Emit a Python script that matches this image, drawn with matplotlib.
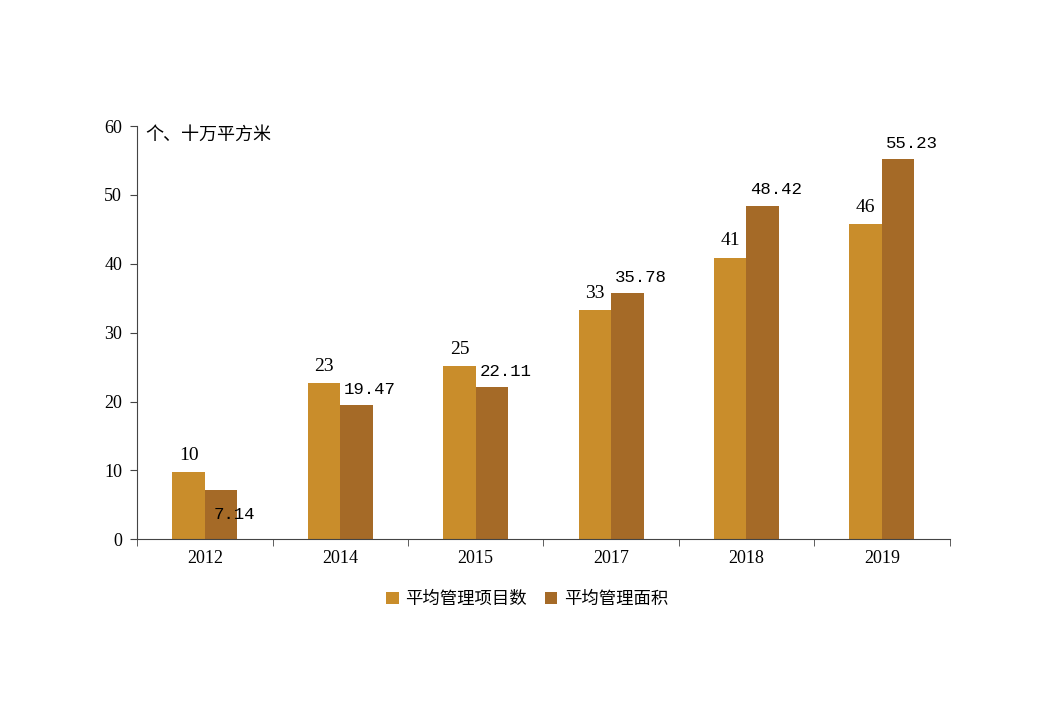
import matplotlib
matplotlib.use("Agg")
import matplotlib.pyplot as plt
import numpy as np

plt.rcParams['font.family'] = ['Liberation Serif', 'Noto Sans CJK SC', 'DejaVu Sans']

years = ['2012', '2014', '2015', '2017', '2018', '2019']
projects = [9.7, 22.7, 25.1, 33.3, 40.9, 45.7]
project_labels = ['10', '23', '25', '33', '41', '46']
areas = [7.14, 19.47, 22.11, 35.78, 48.42, 55.23]

c1 = '#C98D2B'
c2 = '#A56A27'

fig = plt.figure(figsize=(10.4, 7.2), dpi=100)
ax = fig.add_axes([0.132, 0.251, 0.781, 0.574])

x = np.arange(len(years))
w = 0.24
b1 = ax.bar(x - w / 2, projects, w, color=c1, label='平均管理项目数')
b2 = ax.bar(x + w / 2, areas, w, color=c2, label='平均管理面积')

for r, t in zip(b1, project_labels):
    ax.text(r.get_x() + r.get_width() / 2, r.get_height() + 1.2, t,
            ha='center', va='bottom', fontsize=14)
for r, v in zip(b2, areas):
    y = r.get_height() + 1.2
    if v < 8:
        y = 2.5
    ax.text(r.get_x() + r.get_width() / 2 + 0.1, y, f'{v:.2f}',
            ha='center', va='bottom', fontsize=12.5,
            family=['Liberation Mono', 'DejaVu Sans'])

ax.set_xlim(-0.5, len(years) - 0.5)
ax.set_ylim(0, 60)
ax.set_yticks(range(0, 61, 10))
ax.set_xticks(x)
ax.set_xticklabels(years)
ax.set_xticks(np.arange(-0.5, len(years), 1), minor=True)
ax.tick_params(axis='x', which='major', length=0, pad=8, labelsize=13)
ax.tick_params(axis='x', which='minor', length=5, color='#444444')
ax.tick_params(axis='y', length=5, labelsize=13, color='#444444', pad=6)
ax.spines['top'].set_visible(False)
ax.spines['right'].set_visible(False)
ax.spines['left'].set_color('#444444')
ax.spines['bottom'].set_color('#444444')

ax.text(0.01, 1.0, '个、十万平方米', transform=ax.transAxes, fontsize=13,
        va='top', family=['Noto Sans CJK SC'])

ax.legend(loc='upper center', bbox_to_anchor=(0.48, -0.085), ncol=2,
          frameon=False, handlelength=0.7, handleheight=0.7,
          columnspacing=1.0, handletextpad=0.4,
          prop={'family': ['Noto Sans CJK SC'], 'size': 12.5})

fig.savefig('out.png', dpi=100, facecolor='white')
